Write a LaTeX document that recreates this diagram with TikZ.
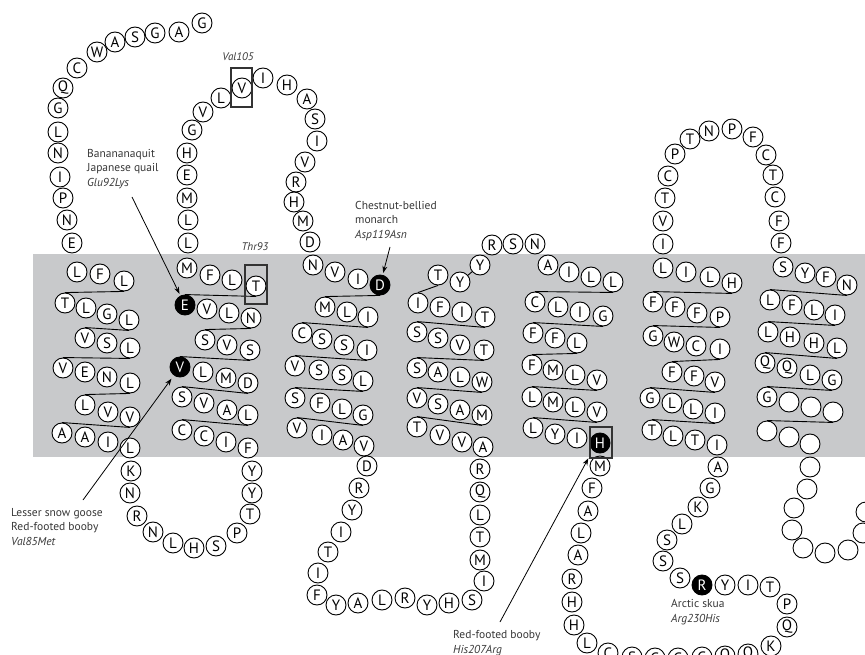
\documentclass[tikz,border=0pt]{standalone}
\usepackage{fontspec}
\setmainfont{PT Sans}
\usetikzlibrary{arrows.meta,calc}
\pgfdeclarelayer{band}
\pgfdeclarelayer{links}
\pgfsetlayers{band,links,main}
\definecolor{membrane}{RGB}{200,201,203}
\definecolor{labelgray}{RGB}{55,55,55}

\begin{document}
\begin{tikzpicture}[x=1pt,y=-1pt,
  res/.style={circle, draw, line width=0.9pt, fill=black!#1, text=white!#1!black, inner sep=0pt, minimum size=20pt, font=\fontsize{15}{15}\selectfont},
  res/.default=0,
  note/.style={align=left, anchor=west, inner sep=0pt, text=labelgray, font=\fontsize{11.5}{14.5}\selectfont},
  tag/.style={inner sep=0pt, text=labelgray, font=\fontsize{11}{13}\selectfont\itshape},
  link/.style={line width=0.9pt},
  arr/.style={-{Stealth[length=7pt,width=5pt]}, line width=0.8pt, shorten >=2pt},
  hl/.style={draw=black!80, line width=1.3pt}]
\useasboundingbox (0,0) rectangle (865,655);
\begin{pgfonlayer}{band}
\fill[membrane] (33,254) rectangle (865,457);
\end{pgfonlayer}

% N-terminus
\foreach \x/\y/\aa [count=\i] in {202/23/G, 179/32/A, 155/33/G, 135/37/S, 115/42/A, 97/52/W, 77/68/C, 63/88/Q, 58/108/G, 58/132/L, 58/153/N, 60/177/I, 63/198/P, 67/220/N, 72/243/E}
  \node[res] (nt-\i) at (\x,\y) {\aa};
% TM1
\foreach \x/\y/\aa [count=\i] in {77/272/L, 100/274/F, 124/281/L, 65/303/T, 86/308/L, 107/314/G, 129/320/L, 85/338/V, 107/343/S, 130/348/L, 63/368/V, 85/372/E, 107/377/N, 130/383/L, 85/405/L, 108/412/V, 130/417/V, 62/433/A, 85/437/A, 108/442/I, 130/448/L}
  \node[res] (h1-\i) at (\x,\y) {\aa};
\foreach \x/\y/\aa [count=\i] in {131/471/K, 130/493/N, 137/516/R, 153/532/N, 173/543/L, 194/548/H, 216/546/S, 237/533/P, 250/514/T, 252/493/Y, 252/471/Y}
  \node[res] (l1-\i) at (\x,\y) {\aa};
% TM2
\foreach \x/\y/\aa/\k [count=\i] in {248/448/F/0, 226/442/I/0, 204/436/C/0, 182/430/C/0, 248/415/L/0, 227/410/A/0, 204/403/V/0, 182/397/S/0, 248/383/D/0, 226/378/M/0, 203/372/L/0, 180/367/V/100, 250/350/S/0, 227/345/V/0, 205/340/S/0, 251/318/N/0, 229/313/L/0, 207/309/V/0, 185/305/E/100, 256/286/T/0, 232/280/L/0, 210/275/F/0, 187/268/M/0}
  \node[res=\k] (h2-\i) at (\x,\y) {\aa};
\foreach \x/\y/\aa [count=\i] in {188/243/L, 188/220/L, 187/198/M, 187/175/E, 187/153/H, 192/130/G, 203/112/V, 221/98/L, 242/88/V, 263/78/I, 287/85/H, 307/99/A, 315/119/S, 317/141/I, 305/162/V, 296/182/R, 294/202/H, 303/221/M, 310/242/D}
  \node[res] (l2-\i) at (\x,\y) {\aa};
% TM3
\foreach \x/\y/\aa/\k [count=\i] in {313/265/N/0, 335/272/V/0, 358/279/I/0, 380/285/D/100, 325/307/M/0, 347/312/L/0, 368/317/I/0, 302/333/C/0, 322/339/S/0, 344/345/S/0, 367/350/I/0, 295/366/V/0, 319/370/S/0, 342/375/S/0, 363/381/L/0, 295/398/S/0, 320/403/F/0, 342/409/L/0, 363/415/G/0, 297/428/V/0, 322/435/I/0, 343/440/A/0, 364/446/V/0}
  \node[res=\k] (h3-\i) at (\x,\y) {\aa};
\foreach \x/\y/\aa [count=\i] in {367/466/D, 359/488/R, 352/510/Y, 341/532/I, 328/552/T, 318/573/I, 317/595/F, 336/605/Y, 358/603/A, 382/600/L, 405/598/R, 427/605/Y, 449/603/H, 472/600/S, 484/581/I, 480/560/M, 480/537/T, 480/515/L, 480/492/Q, 480/469/R}
  \node[res] (l3-\i) at (\x,\y) {\aa};
% TM4
\foreach \x/\y/\aa [count=\i] in {483/447/A, 462/442/V, 440/435/V, 417/427/T, 482/415/M, 460/410/A, 438/404/S, 417/398/V, 482/382/W, 460/377/L, 438/372/A, 417/368/S, 484/350/T, 460/345/V, 438/338/S, 417/332/S, 485/317/T, 462/312/I, 440/307/F, 418/303/I, 438/275/T, 460/282/Y, 480/265/Y}
  \node[res] (h4-\i) at (\x,\y) {\aa};
\foreach \x/\y/\aa [count=\i] in {492/245/R, 513/244/S, 535/244/N}
  \node[res] (l4-\i) at (\x,\y) {\aa};
% TM5
\foreach \x/\y/\aa/\k [count=\i] in {548/265/A/0, 569/272/I/0, 591/277/L/0, 613/282/L/0, 535/302/C/0, 558/307/L/0, 580/312/I/0, 603/316/G/0, 533/333/F/0, 555/338/F/0, 577/343/L/0, 532/365/F/0, 553/370/M/0, 575/375/L/0, 597/380/V/0, 532/397/L/0, 553/402/M/0, 575/407/L/0, 597/412/V/0, 533/428/L/0, 555/434/Y/0, 577/438/I/0, 600/443/H/100}
  \node[res=\k] (h5-\i) at (\x,\y) {\aa};
\foreach \x/\y/\aa/\k [count=\i] in {600/466/M/0, 592/488/F/0, 588/511/A/0, 581/533/L/0, 578/555/A/0, 572/579/R/0, 572/602/H/0, 574/625/H/0, 587/643/L/0, 608/653/C/0, 632/657/S/0, 655/658/G/0, 678/658/G/0, 702/657/G/0, 725/656/Q/0, 748/654/Q/0, 771/646/K/0, 787/627/Q/0, 787/604/P/0, 770/587/T/0, 748/585/I/0, 725/585/Y/0, 702/585/R/100, 680/578/S/0, 663/561/S/0, 667/540/S/0, 682/524/L/0, 698/507/K/0, 710/488/G/0, 718/467/A/0}
  \node[res=\k] (l5-\i) at (\x,\y) {\aa};
% TM6
\foreach \x/\y/\aa [count=\i] in {717/445/I, 695/440/T, 673/436/L, 652/430/T, 715/413/I, 693/409/L, 672/403/L, 650/398/G, 715/382/V, 694/376/F, 672/372/F, 720/349/I, 696/346/C, 674/342/W, 653/336/G, 720/317/P, 697/313/F, 675/307/F, 653/302/F, 732/283/H, 710/277/L, 686/272/I, 663/268/L}
  \node[res] (h6-\i) at (\x,\y) {\aa};
\foreach \x/\y/\aa [count=\i] in {663/244/I, 663/221/V, 665/198/T, 668/176/C, 675/154/P, 690/139/T, 709/131/N, 732/129/P, 753/137/F, 766/155/C, 773/175/T, 775/197/C, 779/221/F, 781/243/F}
  \node[res] (l6-\i) at (\x,\y) {\aa};
% TM7 and C-terminus
\foreach \x/\y/\aa [count=\i] in {783/267/S, 805/273/Y, 826/277/F, 847/285/N, 770/300/L, 792/305/F, 814/310/L, 835/315/I, 768/332/L, 790/337/H, 814/343/H, 837/348/L, 765/363/Q, 787/368/Q, 810/375/L, 832/380/G, 767/397/G, 789/402/{}, 811/407/{}, 833/412/{}, 767/431/{}, 789/437/{}, 810/444/{}}
  \node[res] (h7-\i) at (\x,\y) {\aa};
\foreach \x/\y [count=\i] in {810/467, 807/489, 794/508, 792/530, 803/548, 825/553, 848/550, 863/533, 866/512}
  \node[res] (ct-\i) at (\x,\y) {};

\begin{pgfonlayer}{links}
\foreach \a/\b in {3/4, 7/8, 10/11, 14/15, 17/18}
  \draw[link] (h1-\a.south) -- (h1-\b.north);
\foreach \a/\b in {4/5, 8/9, 12/13, 15/16, 19/20}
  \draw[link] (h2-\a.north) -- (h2-\b.south);
\foreach \a/\b in {4/5, 7/8, 11/12, 15/16, 19/20}
  \draw[link] (h3-\a.south) -- (h3-\b.north);
\foreach \a/\b in {4/5, 8/9, 12/13, 16/17, 20/21}
  \draw[link] (h4-\a.north) -- (h4-\b.south);
\draw[link] (h4-22) -- (h4-23);
\foreach \a/\b in {4/5, 8/9, 11/12, 15/16, 19/20}
  \draw[link] (h5-\a.south) -- (h5-\b.north);
\foreach \a/\b in {4/5, 8/9, 11/12, 15/16, 19/20}
  \draw[link] (h6-\a.north) -- (h6-\b.south);
\foreach \a/\b in {4/5, 8/9, 12/13, 16/17, 20/21}
  \draw[link] (h7-\a.south) -- (h7-\b.north);
\end{pgfonlayer}

% highlighted sites
\draw[hl] ($(l2-9)+(-11,-20)$) rectangle ($(l2-9)+(10,19)$);
\draw[hl] ($(h2-20)+(-11,-21)$) rectangle ($(h2-20)+(11,18)$);
\draw[hl] ($(h5-23)+(-10,-16)$) rectangle ($(h5-23)+(12,15)$);
\node[tag] (val105) at (238,57) {Val105};
\node[tag] (thr93) at (255,247) {Thr93};

% species notes
\node[note] (glu92) at (87,169) {Banananaquit\\Japanese quail\\\textit{Glu92Lys}};
\node[note] (asp119) at (355,221) {Chestnut-bellied\\monarch\\\textit{Asp119Asn}};
\node[note] (val85) at (11,527) {Lesser snow goose\\Red-footed booby\\\textit{Val85Met}};
\node[note] (his207) at (453,643) {Red-footed booby\\\textit{His207Arg}};
\node[note] (arg230) at (671,612) {Arctic skua\\\textit{Arg230His}};
\coordinate (gluTail) at (132,197);
\coordinate (aspTail) at (390,247);
\coordinate (valTail) at (83,500);
\coordinate (hisTail) at (500,622);
\draw[arr] (gluTail) -- (h2-19);
\draw[arr] (aspTail) -- (h3-4);
\draw[arr, shorten >=4pt] (valTail) -- (h2-12);
\draw[arr, shorten >=9pt] (hisTail) -- (h5-23.south west);
\end{tikzpicture}
\end{document}
